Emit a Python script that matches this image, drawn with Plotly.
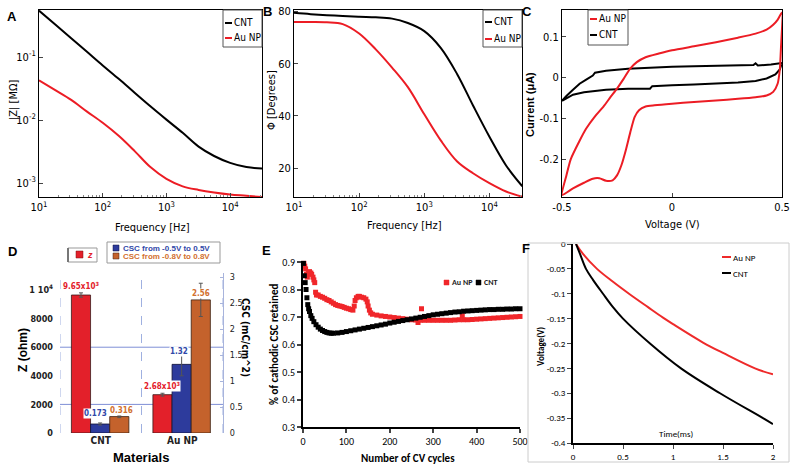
import plotly.graph_objects as go

W, H = 795, 471
FONT = "Liberation Sans Narrow, Arial Narrow, DejaVu Sans Condensed, sans-serif"
FONT2 = "Carlito, Liberation Sans Narrow, Liberation Sans, sans-serif"
RED = "#ec1c24"
BLACK = "#000000"

def px(x):
    return x / W

def py(y):
    return 1 - y / H

# ---------------- data ----------------
# A / B : impedance spectroscopy
freq = [10, 18, 32, 56, 100, 180, 320, 560, 1000, 1800, 3200, 5600, 10000, 18000, 32000]
z_cnt = [0.55, 0.33, 0.20, 0.123, 0.074, 0.045, 0.027, 0.0166, 0.0102, 0.0063, 0.0038, 0.0027, 0.0021, 0.0018, 0.0017]
z_au = [0.043, 0.030, 0.021, 0.0138, 0.0091, 0.0056, 0.0032, 0.0018, 0.00117, 0.00089, 0.00078, 0.00071, 0.00066, 0.00063, 0.00060]
phase_cnt = [79.5, 79.0, 78.6, 78.3, 78.0, 77.8, 77.3, 75.6, 72.5, 66.0, 56.0, 44.0, 32.0, 21.0, 13.0]
phase_au = [76.0, 76.0, 75.9, 75.2, 71.6, 65.5, 58.5, 51.0, 40.6, 30.5, 22.5, 18.0, 14.2, 11.0, 9.0]

# C : cyclic voltammetry
cv_v_au = [-0.5, -0.48, -0.46, -0.42, -0.39, -0.35, -0.31, -0.28, -0.25, -0.22, -0.19, -0.16, -0.12, -0.06, 0.0,
           0.1, 0.2, 0.3, 0.38, 0.43, 0.46, 0.48, 0.5,
           0.495, 0.49, 0.48, 0.46, 0.43, 0.38, 0.3, 0.2, 0.1, 0.0, -0.08, -0.12, -0.15, -0.17, -0.19,
           -0.21, -0.23, -0.25, -0.27, -0.30, -0.33, -0.36, -0.40, -0.45, -0.5]
cv_i_au = [-0.288, -0.24, -0.20, -0.155, -0.125, -0.095, -0.070, -0.048, -0.027, -0.003, 0.022, 0.038, 0.050, 0.059, 0.067,
           0.077, 0.087, 0.098, 0.108, 0.118, 0.130, 0.142, 0.160,
           0.07, 0.02, -0.015, -0.035, -0.044, -0.048, -0.052, -0.056, -0.060, -0.064, -0.068, -0.071, -0.080, -0.097, -0.135,
           -0.178, -0.215, -0.240, -0.252, -0.253, -0.247, -0.248, -0.258, -0.272, -0.288]
cv_v_cnt = [-0.5, -0.48, -0.45, -0.42, -0.39, -0.36, -0.35, -0.3, -0.2, -0.1, 0.0, 0.1, 0.2, 0.3, 0.37, 0.38, 0.39, 0.45, 0.5,
            0.49, 0.47, 0.43, 0.38, 0.3, 0.2, 0.1, 0.0, -0.09, -0.1, -0.2, -0.3, -0.4, -0.45, -0.5]
cv_i_cnt = [-0.057, -0.045, -0.030, -0.015, -0.005, 0.005, 0.012, 0.017, 0.022, 0.025, 0.027, 0.028, 0.029, 0.030, 0.031, 0.035, 0.030, 0.032, 0.036,
            0.020, 0.008, -0.002, -0.008, -0.012, -0.015, -0.017, -0.019, -0.021, -0.027, -0.027, -0.030, -0.036, -0.042, -0.057]

# D : impedance and charge storage capacity
materials = ["CNT", "Au NP"]
z_ohm = [9650, 2680]
z_ohm_err = [150, 100]
csc_05 = [0.173, 1.32]
csc_05_err = [0.02, 0.22]
csc_08 = [0.316, 2.56]
csc_08_err = [0.02, 0.32]
z_labels = ["9.65x10<sup>3</sup>", "2.68x10<sup>3</sup>"]
csc_05_labels = ["0.173", "1.32"]
csc_08_labels = ["0.316", "2.56"]

# E : CSC retained vs CV cycles
cycles_cnt = [1, 3, 5, 7, 9, 11, 13, 15, 18, 21, 25, 30, 35, 40, 45, 50, 55, 60, 65, 70, 80, 90,
              100, 110, 120, 130, 140, 150, 160, 170, 180, 190, 200, 210, 220, 230, 240, 250, 260, 270, 280, 290,
              300, 310, 320, 330, 340, 350, 360, 370, 380, 390, 400, 410, 420, 430, 440, 450, 460, 470, 480, 490, 500]
ret_cnt = [0.895, 0.85, 0.825, 0.80, 0.77, 0.745, 0.73, 0.72, 0.705, 0.695, 0.683, 0.672, 0.663, 0.656, 0.651, 0.647, 0.644, 0.642, 0.641, 0.641, 0.642, 0.644,
           0.647, 0.650, 0.653, 0.656, 0.659, 0.662, 0.665, 0.668, 0.671, 0.674, 0.678, 0.681, 0.684, 0.687, 0.690, 0.693, 0.696, 0.699, 0.702, 0.705,
           0.708, 0.710, 0.712, 0.714, 0.716, 0.718, 0.719, 0.721, 0.722, 0.723, 0.724, 0.725, 0.726, 0.727, 0.727, 0.728, 0.728, 0.729, 0.729, 0.730, 0.730]
cycles_au = [2, 4, 6, 8, 10, 12, 15, 18, 20, 23, 25, 27, 29, 31, 35, 40, 45, 50, 55, 60, 65, 70, 75, 80, 85, 90, 95, 100,
             105, 110, 115, 118, 120, 123, 127, 130, 135, 140, 145, 148, 150, 153, 156, 160, 170, 180, 190, 200, 210, 220,
             230, 240, 250, 260, 265, 270, 273, 280, 290, 300, 310, 320, 330, 340, 350, 360, 367, 370, 380, 390, 400,
             410, 420, 430, 440, 450, 460, 470, 480, 490, 500]
ret_au = [0.895, 0.885, 0.875, 0.855, 0.845, 0.86, 0.865, 0.86, 0.855, 0.845, 0.835, 0.825, 0.79, 0.78, 0.78, 0.775, 0.772, 0.768, 0.763, 0.76, 0.755, 0.75, 0.745, 0.742, 0.74, 0.738, 0.735, 0.732,
          0.73, 0.727, 0.725, 0.74, 0.76, 0.77, 0.775, 0.775, 0.772, 0.77, 0.765, 0.755, 0.74, 0.725, 0.715, 0.71, 0.707, 0.704, 0.702, 0.70, 0.698, 0.696,
          0.694, 0.692, 0.69, 0.689, 0.68, 0.688, 0.73, 0.688, 0.688, 0.688, 0.688, 0.688, 0.688, 0.688, 0.689, 0.69, 0.705, 0.69, 0.69, 0.691, 0.692,
          0.693, 0.694, 0.695, 0.696, 0.697, 0.698, 0.699, 0.70, 0.701, 0.702]

# F : voltage transients
t_au = [0.03, 0.1, 0.24, 0.4, 0.56, 0.75, 0.9, 1.0, 1.3, 1.5, 1.82, 2.0]
v_au = [0.0, -0.02, -0.05, -0.076, -0.10, -0.127, -0.148, -0.161, -0.198, -0.219, -0.25, -0.262]
t_cnt = [0.03, 0.07, 0.13, 0.2, 0.3, 0.4, 0.5, 0.77, 1.08, 1.47, 1.9, 2.0]
v_cnt = [0.0, -0.02, -0.05, -0.072, -0.10, -0.127, -0.15, -0.20, -0.25, -0.30, -0.35, -0.362]

# ---------------- figure ----------------
fig = go.Figure()
ann = []
shp = []

def txt(x, y, s, size=11, color="black", bold=False, angle=0, xa="center", ya="middle", family=FONT, italic=False):
    if bold:
        s = "<b>" + s + "</b>"
    if italic:
        s = "<i>" + s + "</i>"
    ann.append(dict(x=px(x), y=py(y), xref="paper", yref="paper", text=s, showarrow=False,
                    font=dict(size=size, color=color, family=family), textangle=angle,
                    xanchor=xa, yanchor=ya, borderpad=0))

def seg(x0, y0, x1, y1, color, width=1.0, dash="solid"):
    shp.append(dict(type="line", xref="paper", yref="paper", x0=px(x0), y0=py(y0), x1=px(x1), y1=py(y1),
                    line=dict(color=color, width=width, dash=dash)))

def box(x0, y0, x1, y1, line="#666", fill="rgba(0,0,0,0)", width=1.0):
    shp.append(dict(type="rect", xref="paper", yref="paper", x0=px(x0), y0=py(y0), x1=px(x1), y1=py(y1),
                    line=dict(color=line, width=width), fillcolor=fill))

# A
fig.add_trace(go.Scatter(x=freq, y=z_cnt, mode="lines", line=dict(color=BLACK, width=2, shape="spline"), xaxis="x", yaxis="y"))
fig.add_trace(go.Scatter(x=freq, y=z_au, mode="lines", line=dict(color=RED, width=2, shape="spline"), xaxis="x", yaxis="y"))
# B
fig.add_trace(go.Scatter(x=freq, y=phase_cnt, mode="lines", line=dict(color=BLACK, width=2, shape="spline"), xaxis="x2", yaxis="y2"))
fig.add_trace(go.Scatter(x=freq, y=phase_au, mode="lines", line=dict(color=RED, width=2, shape="spline"), xaxis="x2", yaxis="y2"))
# C
fig.add_trace(go.Scatter(x=cv_v_cnt, y=cv_i_cnt, mode="lines", line=dict(color=BLACK, width=2), xaxis="x3", yaxis="y3"))
fig.add_trace(go.Scatter(x=cv_v_au, y=cv_i_au, mode="lines", line=dict(color=RED, width=2, shape="spline", smoothing=0.6), xaxis="x3", yaxis="y3"))

# D
xpos = [0, 1]
BW = 0.235
err_style = dict(type="data", color="#555555", thickness=1, width=2)
fig.add_trace(go.Bar(x=xpos, y=z_ohm, width=BW, offset=-0.36, marker=dict(color="#e3202a", line=dict(color="#3a1a1a", width=0.8)),
                     error_y=dict(array=z_ohm_err, **err_style), xaxis="x4", yaxis="y4"))
fig.add_trace(go.Bar(x=xpos, y=csc_05, width=BW, offset=-0.125, marker=dict(color="#2d3b9c", line=dict(color="#111133", width=0.8)),
                     error_y=dict(array=csc_05_err, **err_style), xaxis="x4", yaxis="y5"))
fig.add_trace(go.Bar(x=xpos, y=csc_08, width=BW, offset=0.11, marker=dict(color="#c4622c", line=dict(color="#3a2010", width=0.8)),
                     error_y=dict(array=csc_08_err, **err_style), xaxis="x4", yaxis="y5"))

# E
fig.add_trace(go.Scatter(x=cycles_au, y=ret_au, mode="markers", marker=dict(symbol="square", size=5, color="#f0262a"),
                         xaxis="x5", yaxis="y6", cliponaxis=False))
fig.add_trace(go.Scatter(x=cycles_cnt, y=ret_cnt, mode="markers", marker=dict(symbol="square", size=5, color=BLACK),
                         xaxis="x5", yaxis="y6", cliponaxis=False))

# F
fig.add_trace(go.Scatter(x=t_au, y=v_au, mode="lines", line=dict(color="#ee2a2a", width=2, shape="spline"), xaxis="x6", yaxis="y7"))
fig.add_trace(go.Scatter(x=t_cnt, y=v_cnt, mode="lines", line=dict(color=BLACK, width=2, shape="spline"), xaxis="x6", yaxis="y7"))

# D value labels
lab_font = dict(size=8, family=FONT)
z_dx = [0.0, 0.0]
c5_dx = [-0.06, -0.03]
c8_dx = [0.03, 0.0]
for i in range(2):
    ann.append(dict(x=xpos[i] - 0.36 + BW / 2 + z_dx[i], y=z_ohm[i], xref="x4", yref="y4", text="<b>" + z_labels[i] + "</b>",
                    showarrow=False, yanchor="bottom", yshift=3, bgcolor="white", borderpad=0, font=dict(color="#e3202a", **lab_font)))
    ann.append(dict(x=xpos[i] - 0.125 + BW / 2 + c5_dx[i], y=csc_05[i], xref="x4", yref="y5", text="<b>" + csc_05_labels[i] + "</b>",
                    showarrow=False, yanchor="bottom", yshift=5 if i == 0 else 7, bgcolor="white", borderpad=0, font=dict(color="#3048a8", **lab_font)))
    ann.append(dict(x=xpos[i] + 0.11 + BW / 2 + c8_dx[i], y=csc_08[i], xref="x4", yref="y5", text="<b>" + csc_08_labels[i] + "</b>",
                    showarrow=False, yanchor="bottom", yshift=1, bgcolor="white", borderpad=0, font=dict(color="#d2702e", **lab_font)))

# D grid shapes
for g in [2000, 6000]:
    shp.append(dict(type="line", xref="x4 domain", yref="y4", x0=0, x1=1, y0=g, y1=g, line=dict(color="#7f8fd6", width=1), layer="below"))
for v in [-0.5, 0.5, 1.5]:
    shp.append(dict(type="line", xref="x4", yref="paper", x0=v, x1=v, y0=py(433), y1=py(276),
                    line=dict(color="#9fb0e0", width=1, dash="dash"), layer="below"))

# ---------- axes ----------
ax_common = dict(showline=True, linecolor="black", linewidth=1, mirror=True, ticks="inside", ticklen=4,
                 tickfont=dict(size=11, family=FONT, color="black"), showgrid=False, zeroline=False, automargin=False)
minor_vals = [m * 10 ** k for k in range(1, 5) for m in range(2, 10) if m * 10 ** k < 32000]
layout_axes = dict(
    xaxis=dict(domain=[px(39), px(262)], anchor="y", type="log", range=[1, 4.5],
               tickvals=[10, 100, 1000, 10000], ticktext=["10<sup>1</sup>", "10<sup>2</sup>", "10<sup>3</sup>", "10<sup>4</sup>"],
               minor=dict(tickvals=minor_vals, ticks="inside", ticklen=2, tickcolor="#888"), **ax_common),
    yaxis=dict(domain=[py(197), py(10)], anchor="x", type="log", range=[-3.22, -0.25],
               tickvals=[0.001, 0.01, 0.1], ticktext=["10<sup>-3</sup>", "10<sup>-2</sup>", "10<sup>-1</sup>"], **ax_common),
    xaxis2=dict(domain=[px(294), px(522)], anchor="y2", type="log", range=[1, 4.5],
                tickvals=[10, 100, 1000, 10000], ticktext=["10<sup>1</sup>", "10<sup>2</sup>", "10<sup>3</sup>", "10<sup>4</sup>"],
                minor=dict(tickvals=minor_vals, ticks="inside", ticklen=2, tickcolor="#888"), **ax_common),
    yaxis2=dict(domain=[py(197), py(10)], anchor="x2", range=[8.9, 80.6], tickvals=[20, 40, 60, 80], **ax_common),
    xaxis3=dict(domain=[px(562), px(782)], anchor="y3", range=[-0.5, 0.5],
                tickvals=[-0.5, 0, 0.5], ticktext=["-0.5", "0", "0.5"], **ax_common),
    yaxis3=dict(domain=[py(197), py(10)], anchor="x3", range=[-0.293, 0.166],
                tickvals=[-0.2, -0.1, 0, 0.1], ticktext=["-0.2", "-0.1", "0", "0.1"], **ax_common),
    xaxis4=dict(domain=[px(60), px(223)], anchor="y4", range=[-0.5, 1.5], tickvals=xpos,
                ticktext=["<b>" + m + "</b>" for m in materials], showline=False, showgrid=False, zeroline=False,
                ticks="", automargin=False, tickfont=dict(size=10, family=FONT, color="#222")),
    yaxis4=dict(domain=[py(433), py(273)], anchor="x4", range=[0, 11190],
                tickvals=[0, 2000, 4000, 6000, 8000, 10000],
                ticktext=["<b>0</b>", "<b>2000</b>", "<b>4000</b>", "<b>6000</b>", "<b>8000</b>", "<b>1 10<sup>4</sup></b>"],
                showline=False, showgrid=False, zeroline=False, ticks="", ticklabelstandoff=6, automargin=False,
                tickfont=dict(size=9, family=FONT, color="#222")),
    yaxis5=dict(domain=[py(433), py(273)], anchor="x4", overlaying="y4", side="right", range=[0, 3.077],
                tickvals=[0, 0.5, 1, 1.5, 2, 2.5, 3], ticktext=["0", "0.5", "1", "1.5", "2", "2.5", "3"],
                showline=True, linecolor="#a8b4dc", linewidth=1, ticks="inside", ticklen=3, tickcolor="#a8b4dc",
                showgrid=False, zeroline=False, ticklabelstandoff=4, automargin=False,
                tickfont=dict(size=9, family=FONT, color="#222")),
    xaxis5=dict(domain=[px(303), px(520)], anchor="y6", range=[0, 500], tickvals=[0, 100, 200, 300, 400, 500],
                showline=True, linecolor="black", linewidth=2, ticks="outside", ticklen=4, tickwidth=1.5,
                showgrid=False, zeroline=False, automargin=False, tickfont=dict(size=10, family=FONT2, color="black")),
    yaxis6=dict(domain=[py(427), py(262)], anchor="x5", range=[0.3, 0.9],
                tickvals=[0.3, 0.4, 0.5, 0.6, 0.7, 0.8, 0.9], ticktext=["0.3", "0.4", "0.5", "0.6", "0.7", "0.8", "0.9"],
                showline=True, linecolor="black", linewidth=2, ticks="outside", ticklen=4, tickwidth=1.5,
                showgrid=False, zeroline=False, automargin=False, tickfont=dict(size=10, family=FONT2, color="black")),
    xaxis6=dict(domain=[px(573), px(773)], anchor="y7", range=[0, 2], tickvals=[0, 0.5, 1, 1.5, 2],
                ticktext=["0", "0.5", "1", "1.5", "2"],
                showline=True, linecolor="black", linewidth=2, ticks="outside", ticklen=4,
                showgrid=False, zeroline=False, automargin=False, tickfont=dict(size=9, family=FONT2, color="black")),
    yaxis7=dict(domain=[py(443), py(244)], anchor="x6", range=[-0.4, 0],
                tickvals=[-0.4, -0.35, -0.3, -0.25, -0.2, -0.15, -0.1, -0.05, 0],
                ticktext=["-0.4", "-0.35", "-0.3", "-0.25", "-0.2", "-0.15", "-0.1", "-0.05", "0"],
                showline=True, linecolor="black", linewidth=1.5, ticks="outside", ticklen=4,
                showgrid=False, zeroline=False, automargin=False, tickfont=dict(size=9, family=FONT2, color="black")),
)

# ---------- titles / labels ----------
LS = "Liberation Sans, Arial, sans-serif"
# panel letters
txt(12, 17, "A", size=13, bold=True, family=LS)
txt(267, 12, "B", size=13, bold=True, family=LS)
txt(527, 12, "C", size=13, bold=True, family=LS)
txt(12, 251, "D", size=13, bold=True, family=LS)
txt(266, 250, "E", size=13, bold=True, family=LS)
txt(526, 248, "F", size=13, bold=True, family=LS)

# A
txt(152, 227, "Frequency [Hz]", size=11)
txt(14, 100, "|Z| [MΩ]", size=11, angle=-90)
box(223, 10, 262, 47, line="#555")
seg(225, 23, 232, 23, BLACK, 2)
txt(233, 23, "CNT", size=10, xa="left")
seg(225, 38, 232, 38, RED, 2)
txt(233, 38, "Au NP", size=10, xa="left")
# B
txt(404, 225, "Frequency [Hz]", size=11)
txt(272, 100, "Φ [Degrees]", size=11, angle=-90)
box(483, 10, 522, 47, line="#555")
seg(485, 22, 492, 22, BLACK, 2)
txt(493, 22, "CNT", size=10, xa="left")
seg(485, 39, 492, 39, RED, 2)
txt(493, 39, "Au NP", size=10, xa="left")
# C
txt(672, 224, "Voltage (V)", size=11)
txt(530, 105, "Current (μA)", size=11, bold=True, angle=-90, family=LS)
box(588, 10, 628, 45, line="#555")
seg(590, 19, 597, 19, RED, 2)
txt(598, 19, "Au NP", size=10, xa="left")
seg(590, 35, 597, 35, BLACK, 2)
txt(598, 35, "CNT", size=10, xa="left")

# D
txt(23, 350, "Z (ohm)", size=12, bold=True, angle=-90, family=LS)
txt(246, 337, "CSC (mC/cm^2)", size=10, bold=True, angle=90, family=FONT)
txt(141, 457, "Materials", size=13, bold=True, family=LS)
box(68, 248, 97, 262, line="#999")
seg(68, 248, 68, 262, "#777", 2)
box(76, 251, 83, 258, line="#7a1010", fill="#e3202a", width=0.5)
txt(90, 255, "z", size=9, color="#e3202a", bold=True, italic=True, family=LS)
box(107, 242, 220, 263, line="#999")
box(113, 245, 119, 251, line="#101040", fill="#2d3b9c", width=0.5)
txt(122, 248, "CSC from -0.5V to 0.5V", size=8, color="#3048a8", bold=True, xa="left", family=LS)
box(113, 253, 119, 259, line="#402010", fill="#c4622c", width=0.5)
txt(122, 256, "CSC from -0.8V to 0.8V", size=8, color="#d2702e", bold=True, xa="left", family=LS)

# E
txt(274, 345, "% of cathodic CSC retained", size=11, bold=True, angle=-90, family=FONT2)
txt(408, 458, "Number of CV cycles", size=11, bold=True, family=FONT2)
box(444, 280, 449, 285, line="#f0262a", fill="#f0262a", width=0.5)
txt(451, 282, "Au NP", size=8, color="#222", bold=True, xa="left", family=FONT2)
box(476, 280, 481, 285, line="black", fill="black", width=0.5)
txt(483, 282, "CNT", size=8, color="#222", bold=True, xa="left", family=FONT2)

# F
box(528, 243, 789, 462, line="#cccccc")
txt(540, 347, "Voltage(V)", size=9, bold=True, angle=-90, family=FONT2)
txt(676, 433, "Time(ms)", size=9, family=FONT2)
seg(722, 257, 731, 257, "#ee2a2a", 2)
txt(732, 257, "Au NP", size=9, xa="left", family=FONT2)
seg(722, 273, 731, 273, BLACK, 2)
txt(732, 273, "CNT", size=9, xa="left", family=FONT2)

fig.update_layout(
    width=W, height=H, margin=dict(l=0, r=0, t=0, b=0),
    paper_bgcolor="white", plot_bgcolor="white", showlegend=False, barmode="overlay",
    font=dict(family=FONT, size=11, color="black"),
    annotations=ann, shapes=shp, **layout_axes,
)

fig.write_html("out.html", config={"displayModeBar": False},
               post_script="document.body.style.margin='0';document.body.style.padding='0';document.body.style.overflow='hidden';")
